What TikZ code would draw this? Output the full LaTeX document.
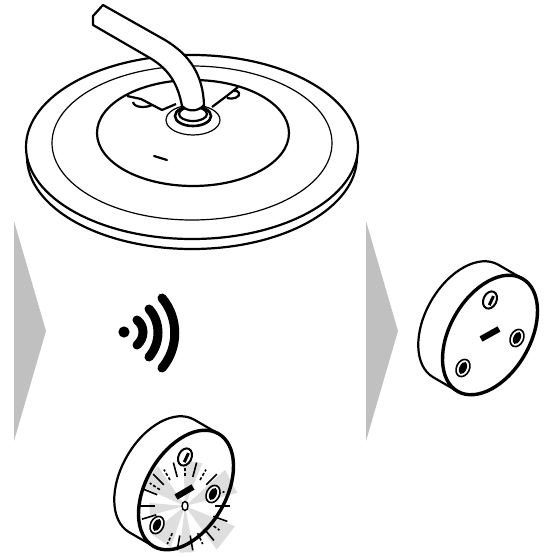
\documentclass[tikz,border=0pt]{standalone}
\tikzset{
  edge/.style={line width=2.2pt, line join=round},
  thick edge/.style={line width=3.4pt, line join=round},
  thin edge/.style={line width=1.2pt},
  pointer/.style={fill=pointergray, draw=none},
  wave/.style={line width=9pt, line cap=round},
  flash/.style={fill=flashgray, draw=none},
  tick/.style={line width=1.6pt},
  dashed tick/.style={line width=1.6pt, dash pattern=on 3pt off 2pt}
}
\definecolor{pointergray}{HTML}{C0C0C0}
\definecolor{flashgray}{HTML}{DEDEDE}
% screws of the puck
\newcommand{\puckscrew}[2]{
  \draw[line width=1.6pt, fill=white, rotate around={65:(#1,#2)}] (#1,#2) ellipse [x radius=9, y radius=6.5];
  \fill[rotate around={65:(#1,#2)}] (#1,#2) ellipse [x radius=6.5, y radius=3.6];
}
\newcommand{\pucktopscrew}[2]{
  \draw[line width=2pt, fill=white, rotate around={65:(#1,#2)}] (#1,#2) ellipse [x radius=9, y radius=6.5];
  \draw[line width=3pt, rotate around={65:(#1,#2)}] (#1-5,#2+1.5) -- (#1+5,#2+1.5);
}
\newcommand{\puckbody}[2]{
  \begin{scope}[rotate around={60:(#1,#2)}]
  \draw[edge, fill=white] (#1+65,#2) -- (#1+65,#2-28) arc [start angle=0, end angle=-180, x radius=65, y radius=40] -- (#1-65,#2) -- cycle;
  \fill[white] (#1,#2) ellipse [x radius=65, y radius=40];
  \end{scope}
}
\newcommand{\puckface}[2]{
  \draw[thick edge, rotate around={60:(#1,#2)}] (#1,#2) ellipse [x radius=65, y radius=40];
}
\begin{document}
\begin{tikzpicture}[x=1pt,y=-1pt]
\useasboundingbox (0,0) rectangle (545,557);

% ceiling lamp
\draw[edge, fill=white] (192,157) ellipse [x radius=165, y radius=92];
\draw[edge, fill=white] (192,147) ellipse [x radius=166, y radius=92];
\draw[thin edge] (192,143) ellipse [x radius=140, y radius=77];
\draw[edge, fill=white] (193,133) ellipse [x radius=96, y radius=53];
\draw[edge, line cap=round] (154,156) -- (167,160);
\draw[edge] (127,96) -- (141,99) -- (162,110) -- (176,104);
\draw[edge] (212,107) -- (228,95) -- (238,87);
\draw[edge] (133,102) .. controls (134,108) and (146,108) .. (152,105);
\draw[edge] (227,98) .. controls (232,100) and (241,97) .. (239,93) .. controls (238,91) and (236,90) .. (234,91);

% gland
\draw[thin edge, fill=white] (193,120) ellipse [x radius=27, y radius=15];
\draw[line width=2.6pt, fill=white] (193,116) ellipse [x radius=18, y radius=10];
\draw[edge] (193,114) ellipse [x radius=14, y radius=7];

% cable
\draw[edge, fill=white] (103,5) -- (93,16) -- (93,25) -- (150,58) .. controls (170,70) and (178,85) .. (182,106) .. controls (188,112) and (198,112) .. (204,105) .. controls (203,75) and (190,55) .. (165,40) -- cycle;

% pointers
\fill[pointer] (14,221) -- (46,331) -- (14,441) -- cycle;
\fill[pointer] (366,221) -- (398,331) -- (366,441) -- cycle;

% wireless sign
\fill (124,332) circle [radius=5.6];
\draw[wave] (137,320) .. controls (145,326) and (145,338) .. (137,345);
\draw[wave] (149,309) .. controls (161,322) and (161,343) .. (149,357);
\draw[wave] (162,298) .. controls (179,318) and (179,348) .. (162,368);

% puck before pairing
\puckbody{186}{490}
\foreach \a/\w/\r in {80/12/46,140/16/48,185/10/36,235/16/44,272/9/47,322/16/54,28/14/54} {
  \fill[flash] (185,506) -- +(-\a-\w:\r) -- +(-\a+\w:\r) -- cycle;
}
\puckface{186}{490}
\foreach \a in {0,45,75,105,135,158,180,197,260,280,310,340} {
  \draw[tick] (185,506) ++(-\a:30) -- ++(-\a:15);
}
\foreach \a in {20,60,90,120,147,215,245,295,325} {
  \draw[dashed tick] (185,506) ++(-\a:30) -- ++(-\a:12);
}
\pucktopscrew{185}{457}
\puckscrew{213}{494}
\puckscrew{157}{525}
\draw[line width=6pt] (176,497) -- (193,487);
\draw[line width=1.4pt, fill=white] (185,506) ellipse [x radius=3, y radius=4.5];

% puck after pairing
\puckbody{490}{335}
\puckface{490}{335}
\pucktopscrew{490}{300}
\puckscrew{517}{338}
\puckscrew{463}{368}
\draw[line width=6pt] (481,339) -- (499,329);
\end{tikzpicture}
\end{document}
